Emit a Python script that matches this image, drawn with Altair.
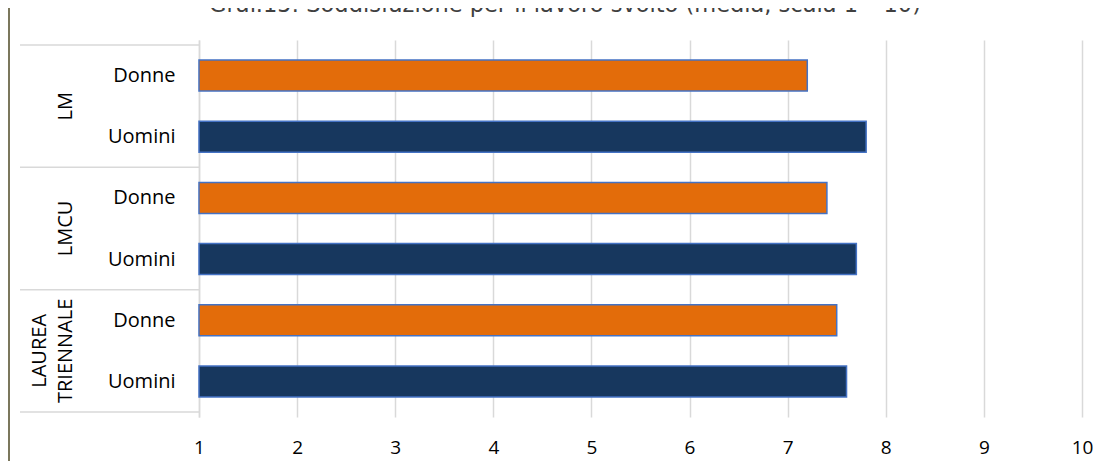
import json
import altair as alt
import pandas as pd

title_text = "Graf.15: Soddisfazione per il lavoro svolto (media, scala 1 – 10)"
group_names = ["LM", "LMCU", "LAUREA\nTRIENNALE"]
genders = ["Donne", "Uomini"]
# top to bottom: LM Donne, LM Uomini, LMCU Donne, LMCU Uomini, LT Donne, LT Uomini
values = [7.2, 7.8, 7.4, 7.7, 7.5, 7.6]
x_ticks = [1, 2, 3, 4, 5, 6, 7, 8, 9, 10]
colors = ["#E36C0A", "#17375E"]

ng = len(genders)
rows = []
for gi, g in enumerate(group_names):
    for si, s in enumerate(genders):
        r = gi * ng + si
        rows.append({"group": g, "gender": s, "value": values[r], "pos": r + 0.5})
bars_df = pd.DataFrame(rows)
n_rows = len(rows)

sep_df = pd.DataFrame({"pos": [gi * ng for gi in range(len(group_names) + 1)]})
grp_df = pd.DataFrame({
    "group": group_names,
    "pos": [gi * ng + ng / 2 for gi in range(len(group_names))],
})

FONT = "Open Sans"
GRID = "#D9D9D9"
LINE_H = 26
yscale = alt.Scale(domain=[0, n_rows], reverse=True, nice=False, zero=False)
xscale = alt.Scale(domain=[x_ticks[0], x_ticks[-1]], nice=False, zero=False)

label_expr = f"{json.dumps(genders)}[floor(datum.value) % {ng}]"

bars = alt.Chart(bars_df).mark_bar(size=31, stroke="#4472C4", strokeWidth=1.5).encode(
    x=alt.X("value:Q", scale=xscale,
            axis=alt.Axis(values=x_ticks, grid=True, gridColor=GRID, gridWidth=1.5,
                          ticks=False, tickSize=0, domain=False, labelPadding=21,
                          labelFlush=False, labelOverlap=False,
                          labelFontSize=19, labelFont=FONT, labelColor="#000",
                          title=None, format="d")),
    x2=alt.datum(x_ticks[0]),
    y=alt.Y("pos:Q", scale=yscale,
            axis=alt.Axis(values=[r + 0.5 for r in range(n_rows)], labelExpr=label_expr,
                          grid=False, ticks=False, tickSize=0, domain=True,
                          domainColor=GRID, domainWidth=1.5, labelPadding=24,
                          labelFlush=False, labelOverlap=False,
                          labelFontSize=20, labelFont=FONT, labelColor="#000",
                          title=None)),
    color=alt.Color("gender:N", scale=alt.Scale(domain=genders, range=colors), legend=None),
)

seps = alt.Chart(sep_df).mark_rule(color=GRID, strokeWidth=1.5).encode(
    y=alt.Y("pos:Q", scale=yscale),
    x=alt.value(-179),
    x2=alt.value(0),
)

glabels = alt.Chart(grp_df).transform_calculate(
    xoff=f"-123 - {LINE_H} * (length(split(datum.group, '\\n')) - 1)"
).mark_text(
    angle=270, align="center", baseline="bottom", lineBreak="\n", lineHeight=LINE_H,
    fontSize=20, font=FONT, color="#000"
).encode(
    y=alt.Y("pos:Q", scale=yscale),
    x=alt.X("xoff:Q", scale=None),
    text="group:N",
)

title_mark = alt.Chart(pd.DataFrame({"t": [title_text]})).mark_text(
    align="center", baseline="alphabetic", fontSize=22.5, font="DejaVu Sans", color="#404040"
).encode(
    x=alt.value(366), y=alt.value(-28), text="t:N"
)

border = alt.Chart(pd.DataFrame({"a": [0]})).mark_rule(color="#4F4A26", strokeWidth=1.5).encode(
    x=alt.value(-190), y=alt.value(-32), y2=alt.value(430)
)

chart = alt.layer(border, seps, bars, glabels, title_mark).properties(
    width=883,
    height=377,
    autosize=alt.AutoSizeParams(type="none"),
    padding={"left": 191, "top": 32, "right": 11, "bottom": 44},
).configure_view(stroke=None)

chart.save("out.html", embed_options={"renderer": "svg", "actions": False})
